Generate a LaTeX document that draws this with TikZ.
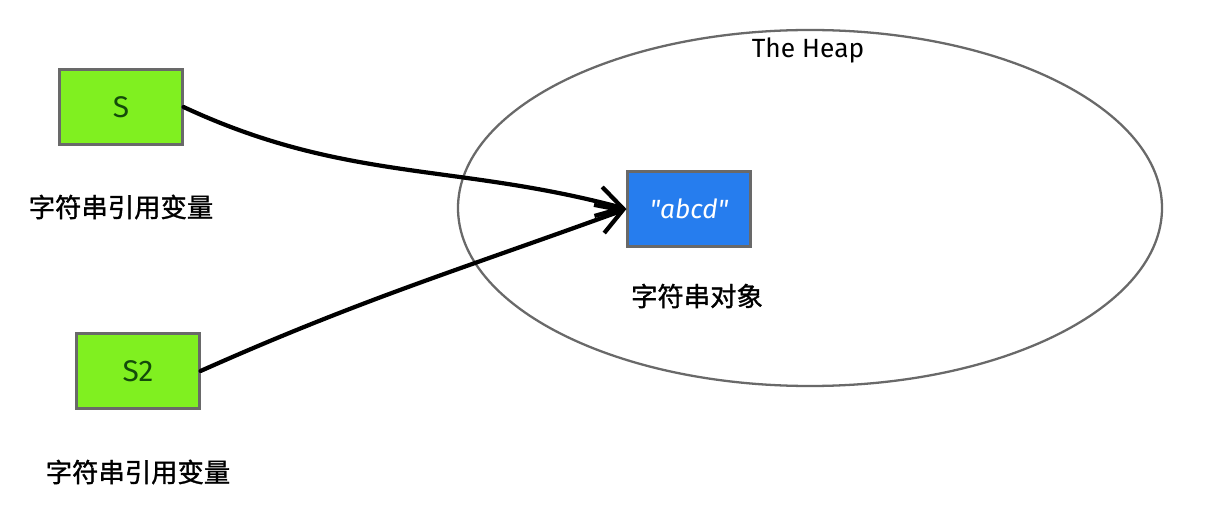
\documentclass[tikz,border=0pt]{standalone}
\usepackage{fontspec}
\setmainfont{Fira Sans}
\newfontfamily\cjk[FakeBold=1.2]{Noto Sans CJK SC}
\usetikzlibrary{arrows.meta}
\definecolor{varGreen}{RGB}{128,240,32}
\definecolor{objBlue}{RGB}{38,125,238}
\definecolor{edgeGray}{RGB}{105,105,105}
\definecolor{textGreen}{RGB}{20,75,10}
\begin{document}
\begin{tikzpicture}[x=0.02cm,y=-0.02cm]
\tikzstyle{every node}=[font=\fontsize{15}{17}\selectfont]
\tikzstyle{varbox}=[draw=edgeGray,line width=1.2pt,fill=varGreen,
  minimum width=2.46cm,minimum height=1.5cm,text=textGreen,
  font=\fontsize{17}{19}\selectfont]
\tikzstyle{objbox}=[draw=edgeGray,line width=1.2pt,fill=objBlue,
  minimum width=2.46cm,minimum height=1.5cm,text=white,
  font=\itshape\fontsize{15}{17}\selectfont]
\tikzstyle{cjklabel}=[font=\cjk\fontsize{15}{17}\selectfont]
\tikzstyle{ref}=[line width=2.4pt,line cap=round,
  -{Straight Barb[length=5mm,width=6mm,line width=2.4pt]}]

\useasboundingbox (0,0) rectangle (1207,513);

% The heap
\draw[edgeGray,line width=1.3pt] (810,208) ellipse [x radius=352,y radius=178];
\node (heap) at (808,50) {The Heap};

% String object
\node[objbox] (abcd) at (689,209) {\textquotedbl abcd\textquotedbl};
\node[cjklabel] (objlbl) at (697,296) {字符串对象};

% Reference variables
\node[varbox] (s) at (121,107) {S};
\node[cjklabel] (slbl) at (121,207) {字符串引用变量};

\node[varbox] (s2) at (138,371) {S2};
\node[cjklabel] (s2lbl) at (138,472) {字符串引用变量};

% References
\draw[ref] (s.east) to[out=-25,in=165] (abcd.west);
\draw[ref] (s2.east) to[out=24,in=200] (abcd.west);

\end{tikzpicture}
\end{document}
